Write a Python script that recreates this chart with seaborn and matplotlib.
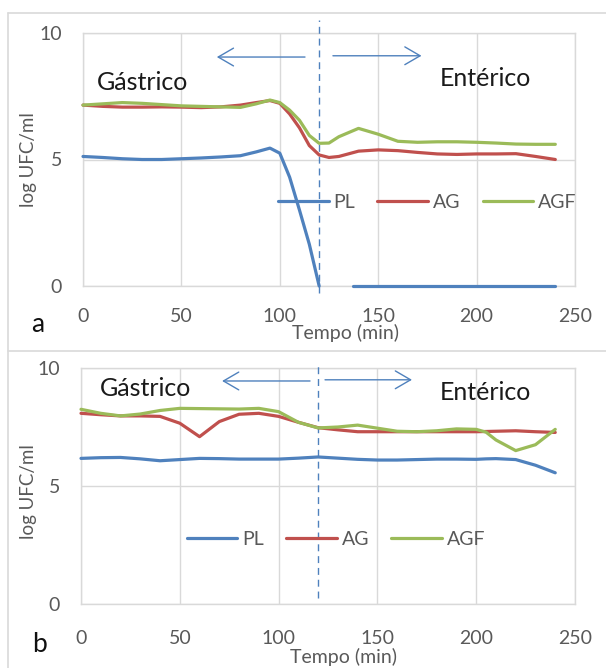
import numpy as np
import pandas as pd
import matplotlib
matplotlib.use("Agg")
import matplotlib.pyplot as plt
from matplotlib.lines import Line2D
import seaborn as sns

# ---------------- data ----------------
series_names = ["PL", "AG", "AGF"]
x_ticks = [0, 50, 100, 150, 200, 250]
y_ticks = [0, 5, 10]
phase_labels = ["Gástrico", "Entérico"]
x_label = "Tempo (min)"
y_label = "log UFC/ml"
panel_labels = ["a", "b"]
phase_change_min = 120

# panel a
a_pl_t1 = [0, 10, 20, 30, 40, 50, 60, 70, 80, 88, 95, 100, 105, 110, 115, 120]
a_pl_v1 = [5.12, 5.08, 5.03, 5.0, 5.0, 5.03, 5.06, 5.1, 5.15, 5.3, 5.45, 5.25, 4.3, 3.0, 1.65, 0.0]
a_pl_t2 = [137, 160, 180, 200, 220, 240]
a_pl_v2 = [0, 0, 0, 0, 0, 0]

a_t = [0, 10, 20, 30, 40, 50, 60, 70, 80, 88, 95, 100, 105, 110, 115, 120, 125, 130,
       140, 150, 160, 170, 180, 190, 200, 210, 220, 230, 240]
a_ag = [7.15, 7.1, 7.07, 7.07, 7.08, 7.07, 7.05, 7.08, 7.15, 7.25, 7.33, 7.22, 6.8, 6.25,
        5.55, 5.18, 5.08, 5.12, 5.33, 5.38, 5.35, 5.28, 5.22, 5.2, 5.22, 5.22, 5.23, 5.12, 5.0]
a_agf = [7.15, 7.2, 7.25, 7.22, 7.17, 7.12, 7.1, 7.08, 7.06, 7.2, 7.35, 7.25, 6.95, 6.55,
         5.95, 5.64, 5.65, 5.9, 6.23, 6.0, 5.72, 5.68, 5.7, 5.7, 5.68, 5.65, 5.61, 5.6, 5.6]

# panel b
b_t = [0, 10, 20, 30, 40, 50, 60, 70, 80, 90, 100, 110, 120, 130, 140, 150, 160, 170,
       180, 190, 200, 205, 210, 220, 230, 240]
b_pl = [6.17, 6.2, 6.21, 6.15, 6.07, 6.12, 6.17, 6.16, 6.14, 6.14, 6.14, 6.18, 6.23, 6.18,
        6.13, 6.1, 6.1, 6.12, 6.14, 6.14, 6.13, 6.15, 6.16, 6.12, 5.88, 5.56]
b_ag = [8.08, 8.02, 7.97, 7.97, 7.95, 7.66, 7.09, 7.73, 8.04, 8.08, 7.95, 7.7, 7.47, 7.38,
        7.3, 7.3, 7.3, 7.3, 7.3, 7.3, 7.3, 7.31, 7.32, 7.34, 7.3, 7.27]
b_agf = [8.25, 8.08, 7.97, 8.05, 8.2, 8.29, 8.28, 8.27, 8.26, 8.29, 8.15, 7.7, 7.46, 7.5,
         7.58, 7.45, 7.32, 7.3, 7.34, 7.42, 7.4, 7.28, 6.95, 6.5, 6.75, 7.4]

# ---------------- style ----------------
colors = {"PL": "#4F81BD", "AG": "#C0504D", "AGF": "#9BBB59"}
grid_c = "#D9D9D9"
txt_c = "#595959"

sns.set_theme(style="white")
plt.rcParams["font.family"] = ["Lato", "DejaVu Sans"]


def frame(parts):
    rows = []
    for name, unit, ts, vs in parts:
        for t, v in zip(ts, vs):
            rows.append({"t": t, "v": v, "serie": name, "seg": unit})
    return pd.DataFrame(rows)


df_a = frame([("PL", "PL1", a_pl_t1, a_pl_v1), ("PL", "PL2", a_pl_t2, a_pl_v2),
              ("AG", "AG", a_t, a_ag), ("AGF", "AGF", a_t, a_agf)])
df_b = frame([("PL", "PL", b_t, b_pl), ("AG", "AG", b_t, b_ag), ("AGF", "AGF", b_t, b_agf)])

fig = plt.figure(figsize=(6.06, 6.68), dpi=100)
W, H = 606, 668


def px_axes(l, r, t, b):
    return fig.add_axes([l / W, 1 - b / H, (r - l) / W, (b - t) / H])


ax_a = px_axes(83, 575, 33, 286)
ax_b = px_axes(81, 575, 368, 604)

cfg = [
    (ax_a, df_a, dict(xlab=(0.533, -0.150), ylab=(-0.093, 0.5), xpad=16,
                      leg=(0.70, 0.33), gas=(7.1, 8.06), ent=(181.4, 8.22),
                      arrL=(112.8, 68, 9.05), arrR=(127, 172, 9.1), vline=(-0.28, 10.51),
                      plab=(38, 325))),
    (ax_b, df_b, dict(xlab=(0.532, -0.185), ylab=(-0.089, 0.475), xpad=19,
                      leg=(0.516, 0.275), gas=(9.6, 9.15), ent=(181.7, 8.98),
                      arrL=(115.9, 71.4, 9.45), arrR=(123.5, 167.5, 9.5), vline=(0.25, 10.13),
                      plab=(40, 645))),
]

for i, (ax, df, c) in enumerate(cfg):
    sns.lineplot(data=df, x="t", y="v", hue="serie", units="seg", estimator=None,
                 sort=False, palette=colors, hue_order=series_names, linewidth=2.3,
                 legend=False, ax=ax)
    for ln in ax.lines:
        ln.set_zorder(3)
        ln.set_clip_on(False)
    ax.set_xlim(0, 250)
    ax.set_ylim(0, 10)
    ax.set_xticks(x_ticks)
    ax.set_yticks(y_ticks)
    ax.grid(True, color=grid_c, linewidth=1)
    ax.set_axisbelow(True)
    for s in ax.spines.values():
        s.set_color(grid_c)
        s.set_linewidth(1)
        s.set_zorder(1)
    ax.tick_params(axis="both", length=0, labelsize=14, labelcolor=txt_c)
    ax.tick_params(axis="x", pad=c["xpad"])
    ax.tick_params(axis="y", pad=15)
    ax.set_xlabel(x_label, fontsize=14, color=txt_c)
    ax.set_ylabel(y_label, fontsize=13.5, color=txt_c)
    ax.xaxis.set_label_coords(*c["xlab"])
    ax.yaxis.set_label_coords(*c["ylab"])

    handles = [Line2D([], [], color=colors[n], linewidth=2.3) for n in series_names]
    leg = ax.legend(handles, series_names, loc="center", bbox_to_anchor=c["leg"], ncol=3,
                    frameon=False, fontsize=14, handlelength=2.6, handletextpad=0.26,
                    columnspacing=1.13, labelcolor=txt_c)

    ax.text(*c["gas"], phase_labels[0], fontsize=18, color="#1A1A1A", ha="left", va="center")
    ax.text(*c["ent"], phase_labels[1], fontsize=18, color="#1A1A1A", ha="left", va="center")

    arrow_kw = dict(arrowstyle="->,head_length=0.55,head_width=0.32", color=colors["PL"],
                    lw=1.0, mutation_scale=20, shrinkA=0, shrinkB=0)
    x0, x1, yy = c["arrL"]
    ax.annotate("", xy=(x1, yy), xytext=(x0, yy), arrowprops=arrow_kw, annotation_clip=False)
    x0, x1, yy = c["arrR"]
    ax.annotate("", xy=(x1, yy), xytext=(x0, yy), arrowprops=arrow_kw, annotation_clip=False)

    ax.vlines(phase_change_min, c["vline"][0], c["vline"][1], colors=colors["PL"], lw=1.0,
              linestyles=(0, (5, 3.5)), clip_on=False)

    fig.text(c["plab"][0] / W, 1 - c["plab"][1] / H, panel_labels[i], fontsize=19,
             color="#111111", ha="center", va="center")

# outer chart borders
fig.add_artist(Line2D([8 / W, 8 / W], [0, 1 - 13 / H], color=grid_c, lw=1.2))
fig.add_artist(Line2D([8 / W, 1], [1 - 13 / H, 1 - 13 / H], color=grid_c, lw=1.2))
fig.add_artist(Line2D([8 / W, 1], [1 - 351 / H, 1 - 351 / H], color=grid_c, lw=1.2))

fig.savefig("out.png", dpi=100)
